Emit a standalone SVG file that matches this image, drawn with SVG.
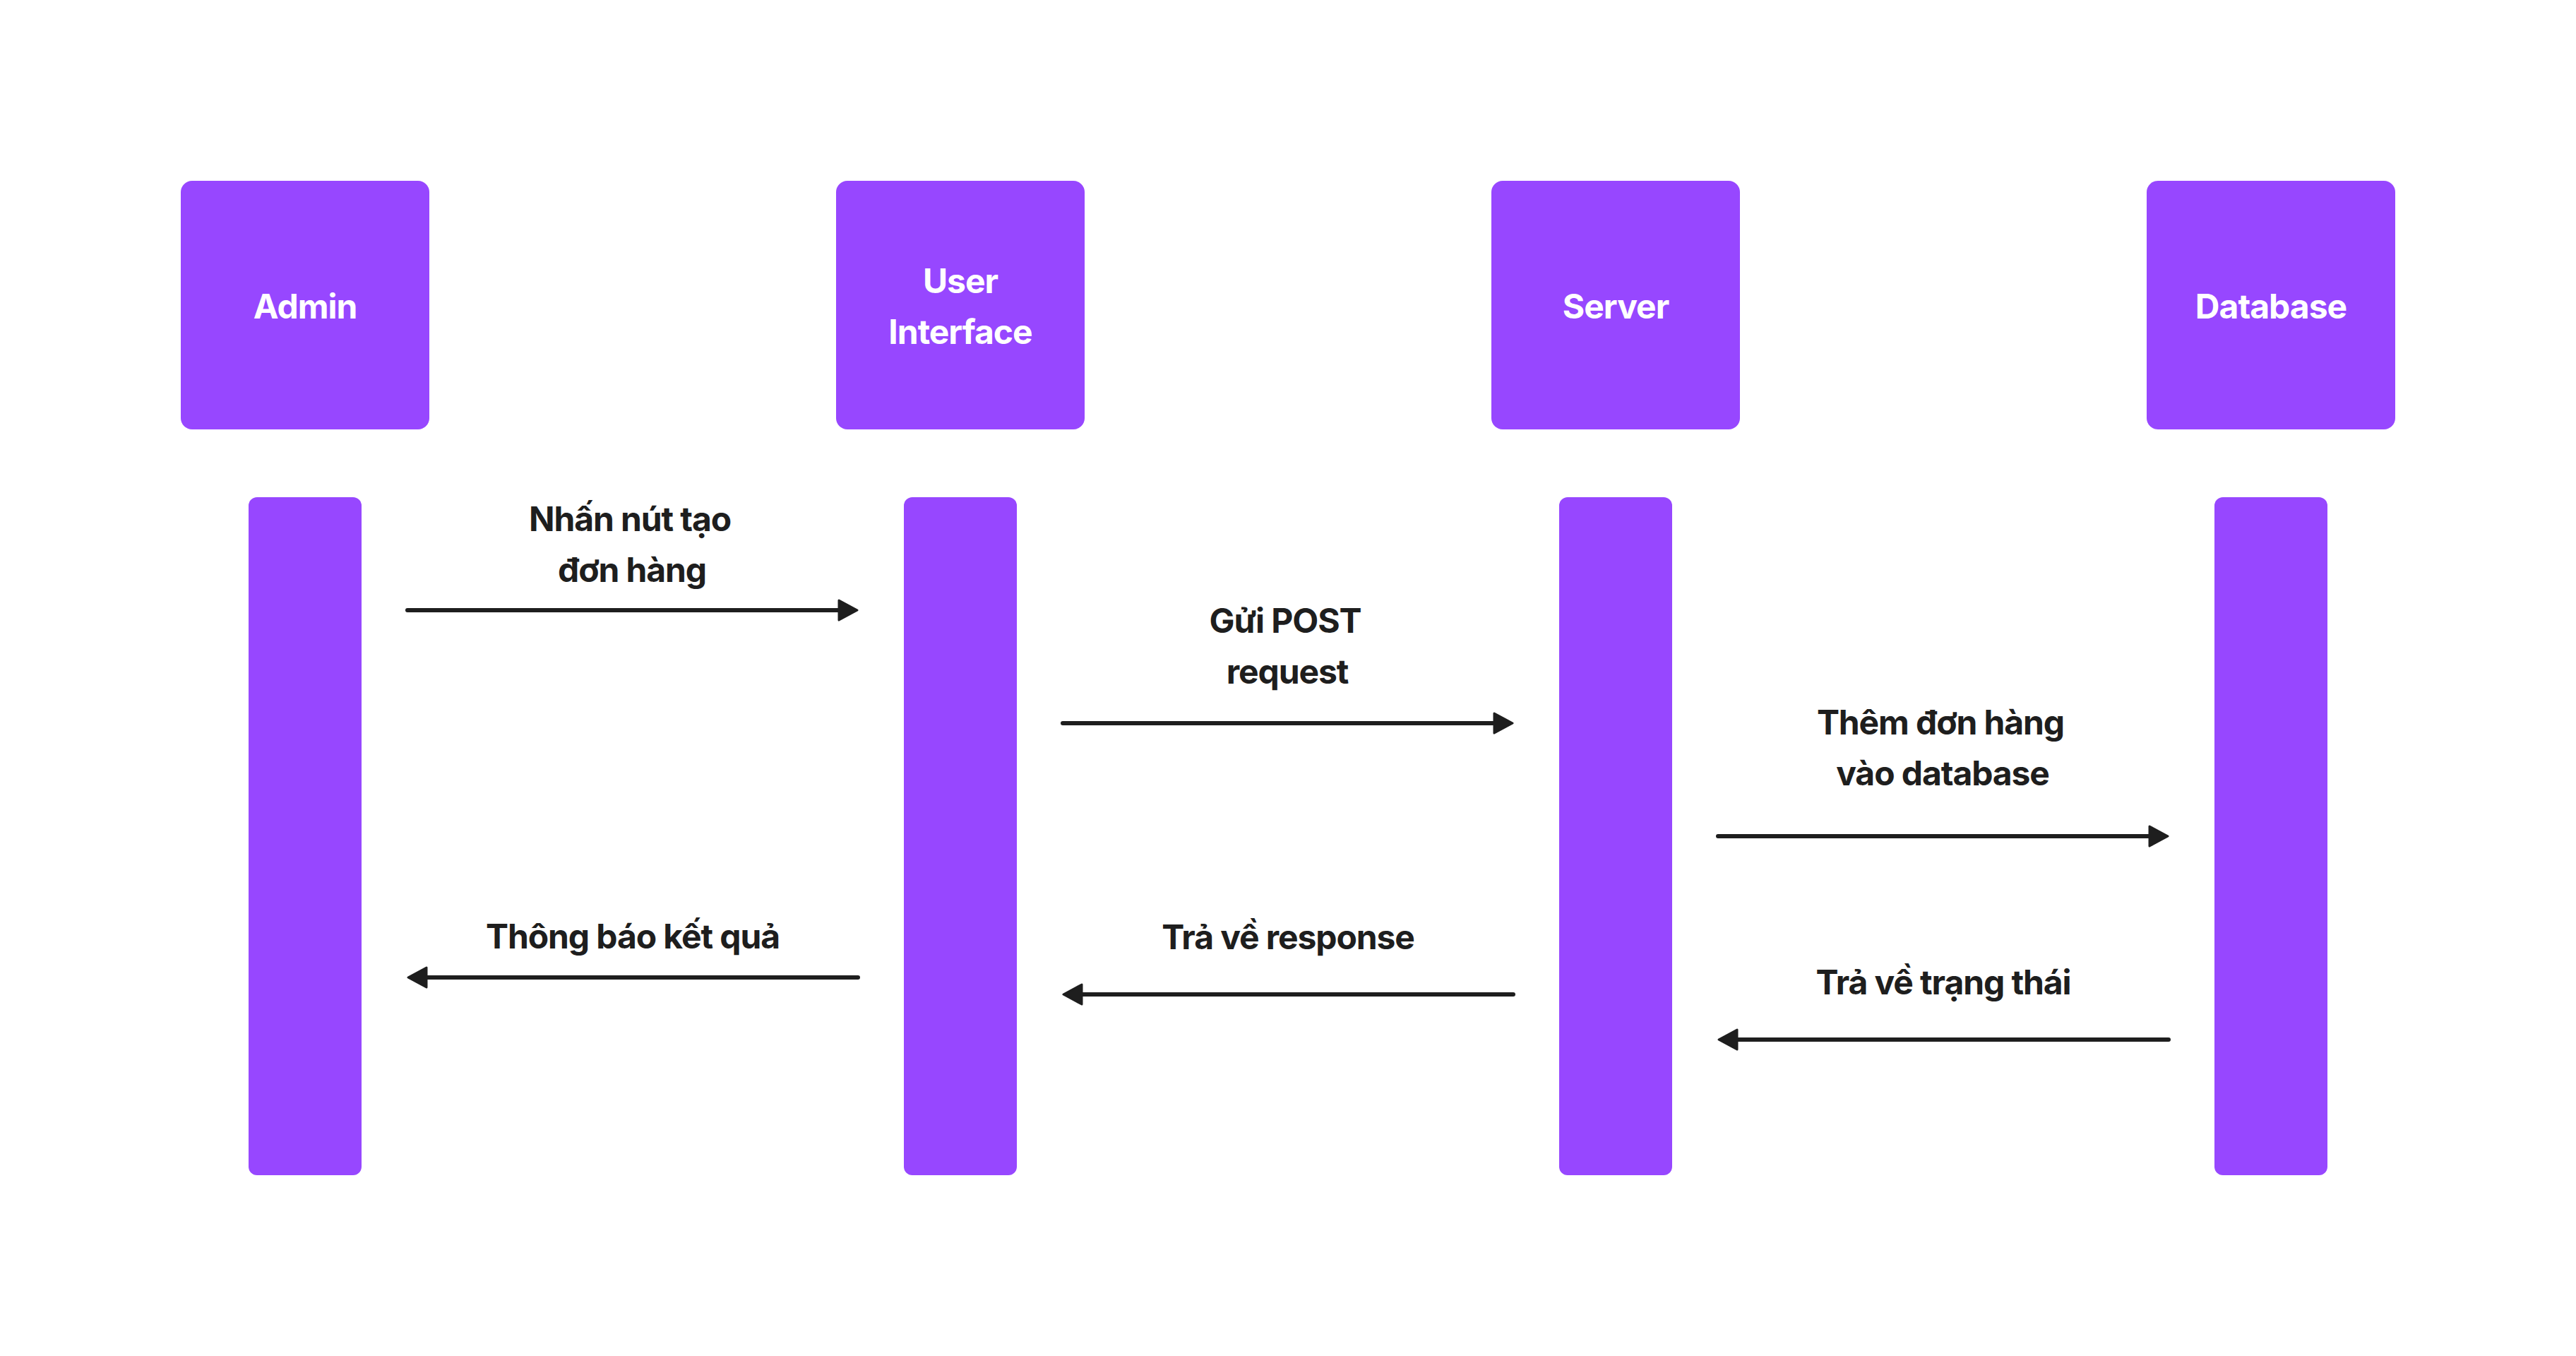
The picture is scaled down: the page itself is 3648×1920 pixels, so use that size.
<svg xmlns="http://www.w3.org/2000/svg" width="3648" height="1920" viewBox="0 0 3648 1920">
  <style>
    .box { fill: #9747FF; }
    .life { fill: #9747FF; }
    .title { font-family: Inter, "Noto Sans", "Liberation Sans", sans-serif; font-size: 48px; font-weight: 700; letter-spacing: -1px; fill: #FFFFFF; text-anchor: middle; }
    .lbl { font-family: Inter, "Noto Sans", "Liberation Sans", sans-serif; font-size: 48px; font-weight: 700; letter-spacing: -1.1px; fill: #1E1E1E; text-anchor: middle; }
    .msg { stroke: #1E1E1E; stroke-width: 6; fill: none; stroke-linecap: round; marker-end: url(#arrow); }
  </style>
  <defs>
    <marker id="arrow" markerUnits="userSpaceOnUse" orient="auto" refX="0" refY="0" markerWidth="40" markerHeight="40" overflow="visible">
      <path d="M-12,-14 L14,0 L-12,14 Z" fill="#1E1E1E" stroke="#1E1E1E" stroke-width="3" stroke-linejoin="round"/>
    </marker>
  </defs>
  <rect width="3648" height="1920" fill="#FFFFFF"/>

  <g id="admin">
    <rect class="box" x="256" y="256" width="352" height="352" rx="16"/>
    <text class="title" x="432" y="451">Admin</text>
    <rect class="life" x="352" y="704" width="160" height="960" rx="12"/>
  </g>
  <g id="user-interface">
    <rect class="box" x="1184" y="256" width="352" height="352" rx="16"/>
    <text class="title" x="1360" y="415">User</text>
    <text class="title" x="1360" y="487">Interface</text>
    <rect class="life" x="1280" y="704" width="160" height="960" rx="12"/>
  </g>
  <g id="server">
    <rect class="box" x="2112" y="256" width="352" height="352" rx="16"/>
    <text class="title" x="2288" y="451">Server</text>
    <rect class="life" x="2208" y="704" width="160" height="960" rx="12"/>
  </g>
  <g id="database">
    <rect class="box" x="3040" y="256" width="352" height="352" rx="16"/>
    <text class="title" x="3216" y="451">Database</text>
    <rect class="life" x="3136" y="704" width="160" height="960" rx="12"/>
  </g>

  <g id="connectors">
    <line class="msg" x1="577" y1="864" x2="1200" y2="864"/>
    <line class="msg" x1="1505" y1="1024" x2="2128" y2="1024"/>
    <line class="msg" x1="2433" y1="1184" x2="3056" y2="1184"/>
    <line class="msg" x1="1215" y1="1384" x2="592" y2="1384"/>
    <line class="msg" x1="2143" y1="1408" x2="1520" y2="1408"/>
    <line class="msg" x1="3071" y1="1472" x2="2448" y2="1472"/>
  </g>

  <g id="labels">
    <text class="lbl" x="892" y="752">Nhấn nút tạo</text>
    <text class="lbl" x="895" y="824">đơn hàng</text>
    <text class="lbl" x="1820" y="896">Gửi POST</text>
    <text class="lbl" x="1823" y="968">request</text>
    <text class="lbl" x="2748" y="1040">Thêm đơn hàng</text>
    <text class="lbl" x="2751" y="1112">vào database</text>
    <text class="lbl" x="896" y="1343">Thông báo kết quả</text>
    <text class="lbl" x="1824" y="1344">Trả về response</text>
    <text class="lbl" x="2752" y="1408">Trả về trạng thái</text>
  </g>
</svg>
